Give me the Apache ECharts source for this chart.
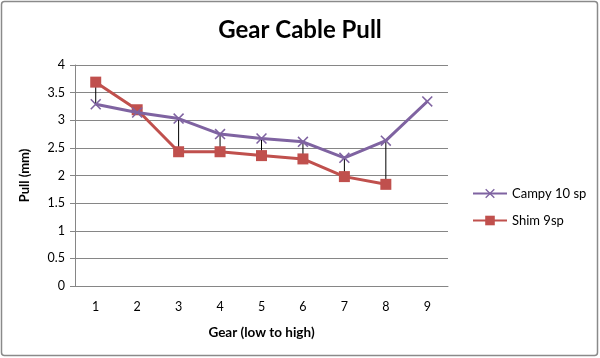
<!DOCTYPE html>
<html>
<head>
<meta charset="utf-8">
<script src="https://cdn.jsdelivr.net/npm/echarts@6/dist/echarts.min.js"></script>
<style>
html,body{margin:0;padding:0;background:#fff;}
#chart{width:600px;height:358px;}
</style>
</head>
<body>
<div id="chart"></div>
<script>
const categories = ['1','2','3','4','5','6','7','8','9'];
const campy = [3.29, 3.14, 3.03, 2.75, 2.67, 2.61, 2.32, 2.63, 3.34];
const shim = [3.69, 3.19, 2.43, 2.43, 2.36, 2.30, 1.98, 1.84, null];
const yTicks = [0, 0.5, 1, 1.5, 2, 2.5, 3, 3.5, 4];

const hiLo = [];
for (let i = 0; i < categories.length; i++) {
  if (campy[i] != null && shim[i] != null) hiLo.push([i, campy[i], shim[i]]);
}

const crossPath = 'path://M0,1 L1,0 L5,4 L9,0 L10,1 L6,5 L10,9 L9,10 L5,6 L1,10 L0,9 L4,5 Z';
const font = 'Lato, "Open Sans", sans-serif';

const chart = echarts.init(document.getElementById('chart'));
chart.setOption({
  animation: false,
  backgroundColor: '#fff',
  title: {
    text: 'Gear Cable Pull',
    left: 'center',
    top: 13,
    textStyle: {fontFamily: font, fontWeight: 'bold', fontSize: 24, color: '#000'}
  },
  graphic: [{
    type: 'rect',
    shape: {x: 1.5, y: 1.5, width: 596, height: 354, r: 3},
    style: {fill: 'none', stroke: '#8a8a8a', lineWidth: 1.5},
    silent: true
  }],
  legend: {
    orient: 'vertical',
    left: 467,
    top: 182,
    itemGap: 14,
    itemWidth: 34,
    itemHeight: 12,
    data: ['Campy 10 sp', 'Shim 9sp'],
    textStyle: {fontFamily: font, fontSize: 13, color: '#000'}
  },
  grid: {left: 75, right: 152, top: 65, bottom: 72},
  xAxis: {
    type: 'category',
    data: categories,
    name: 'Gear (low to high)',
    nameLocation: 'middle',
    nameGap: 40,
    nameTextStyle: {fontFamily: font, fontWeight: 'bold', fontSize: 13.5, color: '#000'},
    axisLine: {lineStyle: {color: '#868686', width: 1}},
    axisTick: {show: false},
    axisLabel: {fontFamily: font, fontSize: 12.5, color: '#000', margin: 14}
  },
  yAxis: {
    type: 'value',
    min: 0, max: 4, interval: 0.5,
    name: 'Pull (mm)',
    nameLocation: 'middle',
    nameGap: 44,
    nameRotate: 90,
    nameTextStyle: {fontFamily: font, fontWeight: 'bold', fontSize: 13, color: '#000'},
    axisLine: {show: true, lineStyle: {color: '#868686', width: 1}},
    axisTick: {show: true, length: 5, lineStyle: {color: '#868686'}},
    splitLine: {lineStyle: {color: '#868686', width: 1}},
    axisLabel: {
      fontFamily: font, fontSize: 12.5, color: '#000', margin: 10,
      formatter: v => yTicks.indexOf(v) >= 0 ? String(v) : ''
    }
  },
  series: [
    {
      type: 'custom',
      name: 'hilo',
      z: 1,
      data: hiLo,
      encode: {x: 0, y: [1, 2]},
      renderItem: function (params, api) {
        const p1 = api.coord([api.value(0), api.value(1)]);
        const p2 = api.coord([api.value(0), api.value(2)]);
        return {
          type: 'line',
          shape: {x1: p1[0], y1: p1[1], x2: p2[0], y2: p2[1]},
          style: {stroke: '#000', lineWidth: 1}
        };
      }
    },
    {
      type: 'line',
      name: 'Campy 10 sp',
      data: campy,
      z: 3,
      symbol: crossPath,
      symbolSize: 11,
      showAllSymbol: true,
      lineStyle: {color: '#7f63a1', width: 3},
      itemStyle: {color: '#7f63a1', borderWidth: 0}
    },
    {
      type: 'line',
      name: 'Shim 9sp',
      data: shim,
      z: 2,
      symbol: 'rect',
      symbolSize: 11,
      showAllSymbol: true,
      lineStyle: {color: '#c0504d', width: 3},
      itemStyle: {color: '#c0504d', borderWidth: 0}
    }
  ]
});
</script>
</body>
</html>
